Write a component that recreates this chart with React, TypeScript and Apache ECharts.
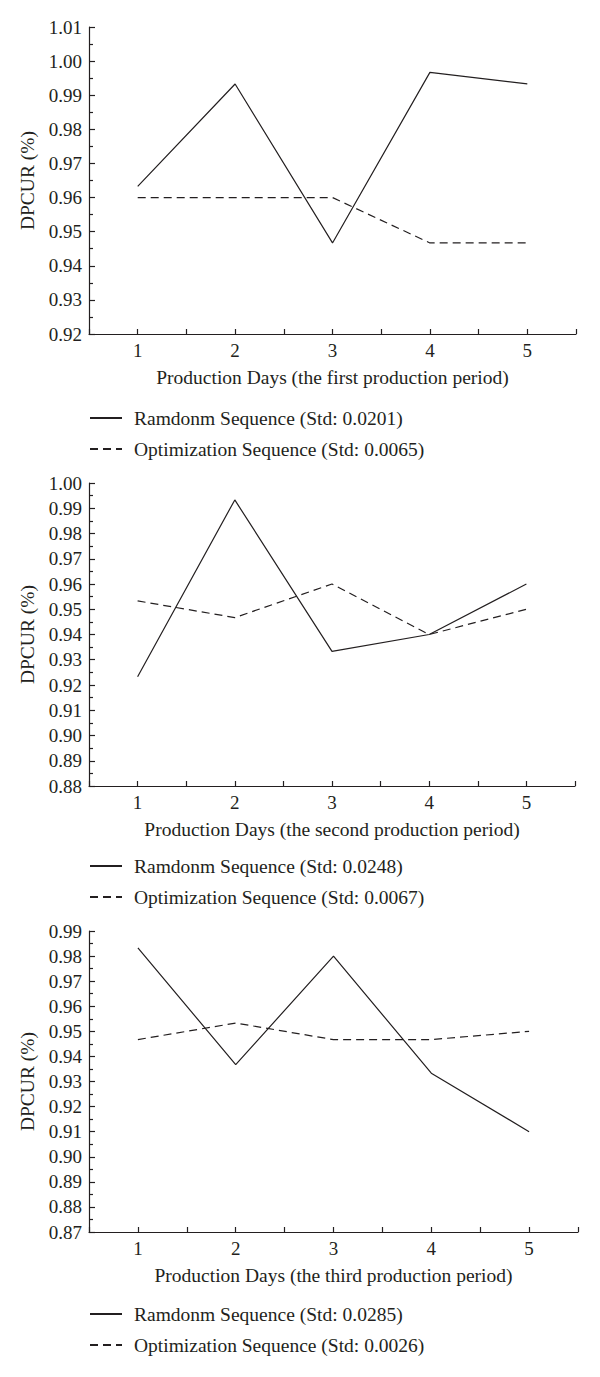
import React, { useEffect, useRef } from "react";
import * as echarts from "echarts";

const days = [1, 2, 3, 4, 5];
const xTitles = [
  "Production Days (the first production period)",
  "Production Days (the second production period)",
  "Production Days (the third production period)",
];
const randomNames = [
  "Ramdonm Sequence (Std: 0.0201)",
  "Ramdonm Sequence (Std: 0.0248)",
  "Ramdonm Sequence (Std: 0.0285)",
];
const optNames = [
  "Optimization Sequence (Std: 0.0065)",
  "Optimization Sequence (Std: 0.0067)",
  "Optimization Sequence (Std: 0.0026)",
];
const random1 = [0.9633, 0.9933, 0.9467, 0.9967, 0.9933];
const opt1 = [0.96, 0.96, 0.96, 0.9467, 0.9467];
const random2 = [0.9233, 0.9933, 0.9333, 0.94, 0.96];
const opt2 = [0.9533, 0.9467, 0.96, 0.94, 0.95];
const random3 = [0.9833, 0.9367, 0.98, 0.9333, 0.91];
const opt3 = [0.9467, 0.9533, 0.9467, 0.9467, 0.95];
const yMins = [0.92, 0.88, 0.87];
const yMaxs = [1.01, 1.0, 0.99];

const FONT = "'Liberation Serif', 'DejaVu Serif', serif";
const INK = "#231f20";

export default function App() {
  const ref = useRef<HTMLDivElement>(null);
  useEffect(() => {
    if (!ref.current) return;
    const chart = echarts.init(ref.current, undefined, { renderer: "svg" });
    const grids = [
      { left: 89, top: 27, width: 487, height: 307 },
      { left: 89, top: 483, width: 486, height: 303 },
      { left: 89, top: 931, width: 489, height: 301 },
    ];
    const legendTops = [408, 856, 1304];
    const randoms = [random1, random2, random3];
    const opts = [opt1, opt2, opt3];

    const axisLine = { show: true, lineStyle: { color: INK, width: 1.2 } };
    const option: any = {
      animation: false,
      backgroundColor: "#ffffff",
      textStyle: { fontFamily: FONT },
      grid: grids.map((g) => ({ ...g, containLabel: false })),
      xAxis: grids.map((_, i) => ({
        type: "value",
        gridIndex: i,
        min: 0.5,
        max: 5.5,
        interval: 0.5,
        name: xTitles[i],
        nameLocation: "middle",
        nameGap: 33,
        nameTextStyle: { fontFamily: FONT, fontSize: 19.5, color: INK },
        axisLine,
        axisTick: { show: true, inside: true, length: 5, lineStyle: { color: INK, width: 1.2 } },
        axisLabel: {
          fontFamily: FONT,
          fontSize: 19,
          color: INK,
          margin: 7,
          formatter: (v: number) => (Number.isInteger(v) && v >= 1 && v <= 5 ? String(v) : ""),
        },
        splitLine: { show: false },
      })),
      yAxis: grids.map((_, i) => ({
        type: "value",
        gridIndex: i,
        min: yMins[i],
        max: yMaxs[i],
        interval: 0.01,
        name: "DPCUR (%)",
        nameLocation: "middle",
        nameRotate: 90,
        nameGap: 52,
        nameTextStyle: { fontFamily: FONT, fontSize: 19.5, color: INK },
        axisLine,
        axisTick: { show: true, inside: true, length: 6, lineStyle: { color: INK, width: 1.2 } },
        minorTick: { show: true, splitNumber: 2, length: 4, lineStyle: { color: INK, width: 1.2 } },
        axisLabel: {
          fontFamily: FONT,
          fontSize: 19,
          color: INK,
          margin: 7,
          formatter: (v: number) => v.toFixed(2),
        },
        splitLine: { show: false },
        minorSplitLine: { show: false },
      })),
      legend: grids.map((_, i) => ({
        orient: "vertical",
        left: 89,
        top: legendTops[i],
        padding: 0,
        itemWidth: 32,
        itemHeight: 1,
        itemGap: 11,
        itemStyle: { opacity: 0 },
        data: [randomNames[i], optNames[i]],
        selectedMode: false,
        textStyle: {
          fontFamily: FONT,
          fontSize: 19.5,
          lineHeight: 20,
          color: INK,
          padding: [0, 0, 0, 7],
        },
      })),
      series: grids.flatMap((_, i) => [
        {
          type: "line",
          name: randomNames[i],
          xAxisIndex: i,
          yAxisIndex: i,
          symbol: "none",
          data: days.map((d, k) => [d, randoms[i][k]]),
          lineStyle: { color: INK, width: 1.2, type: "solid" },
          itemStyle: { color: INK },
        },
        {
          type: "line",
          name: optNames[i],
          xAxisIndex: i,
          yAxisIndex: i,
          symbol: "none",
          data: days.map((d, k) => [d, opts[i][k]]),
          lineStyle: { color: INK, width: 1.2, type: [8, 5] },
          itemStyle: { color: INK },
        },
      ]),
    };
    chart.setOption(option);
    return () => chart.dispose();
  }, []);
  return (
    <div
      ref={ref}
      style={{ position: "absolute", left: 0, top: 0, width: 600, height: 1377, background: "#fff" }}
    />
  );
}
